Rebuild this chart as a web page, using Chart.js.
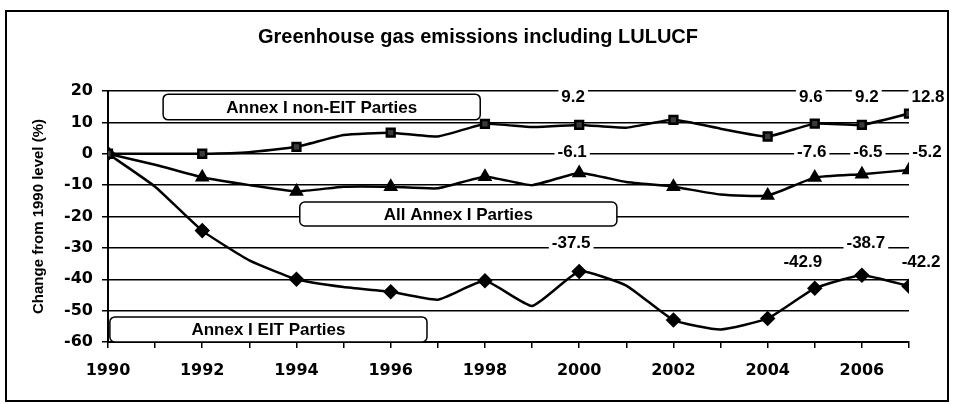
<!DOCTYPE html>
<html>
<head>
<meta charset="utf-8">
<script src="https://cdn.jsdelivr.net/npm/chart.js@4.4.1/dist/chart.umd.min.js"></script>
<style>
  html, body { margin: 0; padding: 0; background: #fff; }
  #wrap { width: 953px; height: 404px; }
</style>
</head>
<body>
<div id="wrap"><canvas id="ghgChart" width="953" height="404"></canvas></div>
<script>
// Datos
const years = [1990, 1991, 1992, 1993, 1994, 1995, 1996, 1997, 1998, 1999, 2000, 2001, 2002, 2003, 2004, 2005, 2006, 2007];
const nonEIT   = [0, 0, 0, 0.5, 2.2, 6, 6.7, 5.5, 9.5, 8.5, 9.2, 8.3, 10.8, 8, 5.5, 9.6, 9.2, 12.8];
const allAnnex = [0, -3.5, -7.5, -10, -12, -10.5, -10.5, -11, -7.3, -10, -6.1, -9, -10.5, -13, -13.3, -7.6, -6.5, -5.2];
const eit      = [0, -10.5, -24.5, -34, -40, -42.5, -44, -46.5, -40.5, -48.5, -37.5, -42, -53, -56, -52.5, -42.9, -38.7, -42.2];
const markerYears = [1990, 1992, 1994, 1996, 1998, 2000, 2002, 2004, 2005, 2006, 2007];
const labelYears = [2000, 2005, 2006, 2007];
const seriesNames = ['Annex I non-EIT Parties', 'All Annex I Parties', 'Annex I EIT Parties'];
const yMin = -60, yMax = 20, yStep = 10;

const toPoints = arr => years.map((yr, i) => ({ x: yr, y: arr[i] }));
const radii = r => years.map(yr => markerYears.includes(yr) ? r : 0);

// cajas de texto y etiquetas (en unidades de los ejes)
const boxes = [
    { text: seriesNames[0], x0: 1991.17, x1: 1997.9, y0: 19.0, y1: 10.8 },
    { text: seriesNames[1], x0: 1994.07, x1: 2000.8, y0: -15.4, y1: -23.0 },
    { text: seriesNames[2], x0: 1990.04, x1: 1996.77, y0: -52.0, y1: -60 }
];
const labelStyle = [
    { rows: [18, 18, 18, 18], dx: [-6, -4, 5, 19] },
    { rows: [0.6, 0.6, 0.6, 0.6], dx: [-7, -3, 6, 18] },
    { rows: [-28.4, -34.6, -28.4, -34.6], dx: [-8, -12, 4, 12] }
];

const decor = {
    id: 'decor',
    beforeDatasetsDraw(chart) {
        const { ctx, scales: { x, y } } = chart;
        ctx.save();
        boxes.forEach(b => {
            const l = x.getPixelForValue(b.x0), r = x.getPixelForValue(b.x1);
            const t = y.getPixelForValue(b.y0), bt = y.getPixelForValue(b.y1);
            ctx.beginPath();
            ctx.roundRect(l, t, r - l, bt - t, 5);
            ctx.fillStyle = '#fff';
            ctx.fill();
            ctx.lineWidth = 1.5;
            ctx.strokeStyle = '#000';
            ctx.stroke();
            ctx.fillStyle = '#000';
            ctx.font = 'bold 17px "Liberation Sans", Arial, sans-serif';
            ctx.textAlign = 'center';
            ctx.textBaseline = 'middle';
            ctx.fillText(b.text, (l + r) / 2, (t + bt) / 2 + 1);
        });
        ctx.restore();
    },
    afterDatasetsDraw(chart) {
        const { ctx, scales: { x, y } } = chart;
        ctx.save();
        ctx.font = 'bold 17px "Liberation Sans", Arial, sans-serif';
        ctx.textAlign = 'center';
        ctx.textBaseline = 'middle';
        chart.data.datasets.forEach((ds, si) => {
            labelYears.forEach((yr, k) => {
                const pt = ds.data.find(p => p.x === yr);
                const txt = pt.y.toFixed(1);
                const px = x.getPixelForValue(yr) + labelStyle[si].dx[k];
                const py = y.getPixelForValue(labelStyle[si].rows[k]);
                const w = ctx.measureText(txt).width;
                ctx.fillStyle = '#fff';
                ctx.fillRect(px - w / 2 - 3, py - 8, w + 6, 16);
                ctx.fillStyle = '#000';
                ctx.fillText(txt, px, py);
            });
        });
        ctx.restore();
    },
    afterDraw(chart) {
        const { ctx } = chart;
        ctx.save();
        ctx.fillStyle = '#000';
        ctx.font = 'bold 20px "Liberation Sans", Arial, sans-serif';
        ctx.textAlign = 'center';
        ctx.textBaseline = 'middle';
        ctx.fillText('Greenhouse gas emissions including LULUCF', 478, 37);
        ctx.lineWidth = 2;
        ctx.strokeStyle = '#000';
        ctx.strokeRect(6, 11, 942, 390);
        ctx.restore();
    }
};

const ctx = document.getElementById('ghgChart').getContext('2d');
new Chart(ctx, {
    type: 'line',
    data: {
        datasets: [{
            label: seriesNames[0],
            data: toPoints(nonEIT),
            borderColor: '#000',
            borderWidth: 2.5,
            pointStyle: 'rect',
            pointRadius: radii(5.5),
            pointBackgroundColor: '#3a3a3a',
            pointBorderColor: '#000',
            tension: 0.15
        }, {
            label: seriesNames[1],
            data: toPoints(allAnnex),
            borderColor: '#000',
            borderWidth: 2.5,
            pointStyle: 'triangle',
            pointRadius: radii(6),
            pointBackgroundColor: '#000',
            pointBorderColor: '#000',
            tension: 0.15
        }, {
            label: seriesNames[2],
            data: toPoints(eit),
            borderColor: '#000',
            borderWidth: 2.5,
            pointStyle: 'rectRot',
            pointRadius: radii(6),
            pointBackgroundColor: '#000',
            pointBorderColor: '#000',
            tension: 0.15
        }]
    },
    options: {
        responsive: false,
        animation: false,
        devicePixelRatio: 1,
        layout: { padding: { top: 91, right: 44, bottom: 0, left: 0 } },
        plugins: {
            legend: { display: false },
            tooltip: { enabled: false }
        },
        scales: {
            x: {
                type: 'linear',
                min: 1990,
                max: 2007,
                afterFit: s => { s.height = 62; },
                ticks: {
                    stepSize: 1,
                    autoSkip: false,
                    maxRotation: 0,
                    minRotation: 0,
                    padding: 13,
                    color: '#000',
                    font: { family: '"DejaVu Sans"', size: 16, weight: 'bold' },
                    callback: v => v % 2 === 0 ? String(v) : ''
                },
                grid: { drawOnChartArea: false, drawTicks: true, tickLength: 6, color: '#000', lineWidth: 1.5 },
                border: { color: '#000', width: 2 }
            },
            y: {
                min: yMin,
                max: yMax,
                afterFit: s => { s.width = 108; },
                ticks: {
                    stepSize: yStep,
                    padding: 9,
                    color: '#000',
                    font: { family: '"DejaVu Sans"', size: 16, weight: 'bold' }
                },
                grid: { color: '#000', lineWidth: 1.5, tickLength: 6 },
                border: { color: '#000', width: 2 },
                title: {
                    display: true,
                    text: 'Change from 1990 level (%)',
                    color: '#000',
                    font: { family: '"Liberation Sans"', size: 15, weight: 'bold' },
                    padding: { top: 30, bottom: 0 }
                }
            }
        }
    },
    plugins: [decor]
});
</script>
</body>
</html>
